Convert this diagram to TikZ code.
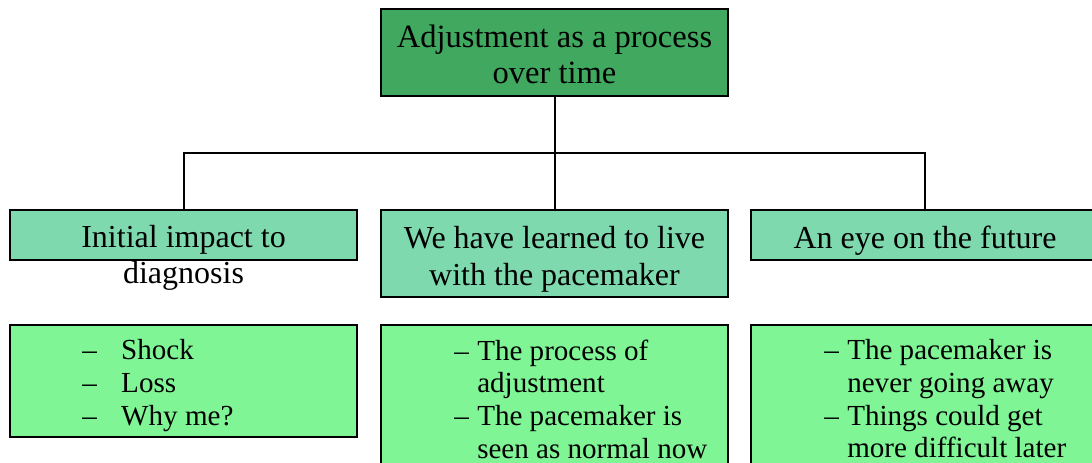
\documentclass[tikz,border=0pt]{standalone}
\usepackage{fontspec}
\setmainfont{Liberation Serif}
\definecolor{topgreen}{HTML}{41A85F}
\definecolor{midgreen}{HTML}{7FD9AE}
\definecolor{lowgreen}{HTML}{80F595}
\newcommand{\dashgap}[1]{\makebox[#1][l]{–}}
\begin{document}
\begin{tikzpicture}[x=0.75pt,y=-0.75pt,
  boxbase/.style={draw=black, line width=1.5pt, inner sep=0pt,
    minimum width=260.25pt},
  topbox/.style={boxbase, fill=topgreen, minimum height=65.25pt},
  midbox/.style={boxbase, fill=midgreen},
  lowbox/.style={boxbase, fill=lowgreen},
  toptext/.style={inner sep=0pt, align=center, font=\fontsize{24.4}{27}\selectfont},
  midtext/.style={inner sep=0pt, align=center, font=\fontsize{24}{27.4}\selectfont},
  listtext/.style={inner sep=0pt, align=left, anchor=north west,
    font=\fontsize{21.8}{24.5}\selectfont},
  link/.style={draw=black, line width=1.5pt}]
\useasboundingbox (0,0) rectangle (1092,463);
\clip (0,0) rectangle (1092,463);

% top of the hierarchy
\node[topbox] (top) at (554.5,52.5) {};
\node[toptext] (toplabel) at ([shift={(0,2)}]top.center) {Adjustment as a process\\over time};

% second level
\node[midbox, minimum height=37.5pt] (left2) at (183.5,235) {};
\node[midbox, minimum height=65.25pt] (mid2) at (554.5,253.5) {};
\node[midbox, minimum height=37.5pt, minimum width=261pt] (right2) at (925,235) {};
\node[midtext] (left2label) at ([shift={(0,23)}]left2.center) {Initial impact to\\diagnosis};
\node[midtext] (mid2label) at ([shift={(0,6)}]mid2.center) {We have learned to live\\with the pacemaker};
\node[midtext] (right2label) at ([shift={(0,5.5)}]right2.center) {An eye on the future};

% connectors
\coordinate (bus) at (554,153);
\draw[link] (top.south) -- (mid2.north);
\draw[link] (left2.north) |- (bus) -| (right2.north);

% third level
\node[lowbox, minimum height=84pt] (left3) at (183.5,381) {};
\node[lowbox, minimum height=110.25pt] (mid3) at (554.5,398.5) {};
\node[lowbox, minimum height=110.25pt, minimum width=261pt] (right3) at (925,398.5) {};

\node[listtext] (left3text) at ([shift={(73,15.5)}]left3.north west)
  {\dashgap{29.25pt}Shock\\\dashgap{29.25pt}Loss\\\dashgap{29.25pt}Why me?};
\node[listtext] (mid3text) at ([shift={(74,15.5)}]mid3.north west)
  {\dashgap{17.25pt}The process of\\\hspace*{17.25pt}adjustment\\
   \dashgap{17.25pt}The pacemaker is\\\hspace*{17.25pt}seen as normal now};
\node[listtext] (right3text) at ([shift={(74,15.5)}]right3.north west)
  {\dashgap{17.25pt}The pacemaker is\\\hspace*{17.25pt}never going away\\
   \dashgap{17.25pt}Things could get\\\hspace*{17.25pt}more difficult later};
\end{tikzpicture}
\end{document}
